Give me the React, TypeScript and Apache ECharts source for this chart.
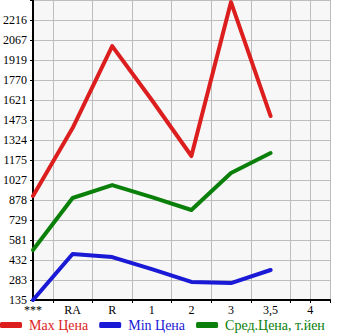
import React, { useEffect, useRef } from "react";
import * as echarts from "echarts";

const categories = ["***", "RA", "R", "1", "2", "3", "3,5", "4"];
const maxPrice = [908, 1413, 2022, 1621, 1205, 2349, 1502];
const minPrice = [135, 477, 454, 365, 269, 261, 358];
const avgPrice = [506, 893, 989, 900, 804, 1079, 1227];
const yTickLabels = ["135", "283", "432", "581", "729", "878", "1027", "1175", "1324", "1473", "1621", "1770", "1919", "2067", "2216", ""];
const yMin = 135;
const yStep = 148.64;
const seriesNames = ["Max Цена", "Min Цена", "Сред.Цена, т.йен"];
const colors = ["#dc1e1e", "#1a1ad6", "#0a800a"];

const FONT = "'Liberation Serif', 'DejaVu Serif', serif";

export default function App() {
  const ref = useRef<HTMLDivElement>(null);
  useEffect(() => {
    if (!ref.current) return;
    const chart = echarts.init(ref.current, undefined, { renderer: "svg" });
    const toPts = (arr: number[]) => arr.map((v, i) => [i, v]);
    const allData = [maxPrice, minPrice, avgPrice];
    chart.setOption({
      animation: false,
      backgroundColor: "#ffffff",
      grid: {
        left: 30,
        top: 0,
        width: 300,
        height: 300,
        show: true,
        backgroundColor: "#f7f7f7",
        borderWidth: 0,
      },
      legend: {
        left: 0,
        top: 318,
        padding: 0,
        itemWidth: 22,
        itemHeight: 6,
        itemGap: 11,
        icon: "roundRect",
        textStyle: { fontFamily: FONT, fontSize: 14, padding: [0, 0, 0, 2] },
        data: seriesNames.map((n, i) => ({ name: n, textStyle: { color: colors[i] } })),
      },
      xAxis: {
        type: "value",
        min: 0,
        max: 7.5,
        interval: 0.5,
        axisLine: { show: true, lineStyle: { color: "#000", width: 2 } },
        axisTick: {
          show: true,
          length: 3,
          lineStyle: { color: "#000" },
          customValues: [0.5, 1.5, 2.5, 3.5, 4.5, 5.5, 6.5, 7, 7.5],
        },
        splitLine: { show: true, lineStyle: { color: "#bdbdbd", width: 1 } },
        axisLabel: {
          color: "#000",
          fontFamily: FONT,
          fontSize: 12,
          margin: 4,
          showMaxLabel: true,
          formatter: (v: number) =>
            Number.isInteger(v) && v < categories.length ? categories[v] : "",
        },
      },
      yAxis: [
        {
          type: "value",
          min: yMin,
          max: yMin + (yTickLabels.length - 1) * yStep,
          show: false,
          splitLine: { show: false },
        },
        {
          type: "category",
          position: "left",
          boundaryGap: false,
          data: yTickLabels,
          axisLine: { show: true, lineStyle: { color: "#000", width: 2 } },
          axisTick: { show: true, length: 3, interval: 0, lineStyle: { color: "#000" } },
          splitLine: { show: true, interval: 0, lineStyle: { color: "#bdbdbd", width: 1 } },
          axisLabel: {
            interval: 0,
            color: "#000",
            fontFamily: FONT,
            fontSize: 12,
            margin: 6,
          },
        },
      ],
      series: seriesNames.map((n, i) => ({
        name: n,
        type: "line",
        yAxisIndex: 0,
        data: toPts(allData[i]),
        symbol: "none",
        color: colors[i],
        lineStyle: { width: 4, color: colors[i], cap: "round", join: "round" },
        z: 3,
      })),
    });
    return () => chart.dispose();
  }, []);
  return <div ref={ref} style={{ width: 345, height: 335, position: "absolute", left: 0, top: 0 }} />;
}
